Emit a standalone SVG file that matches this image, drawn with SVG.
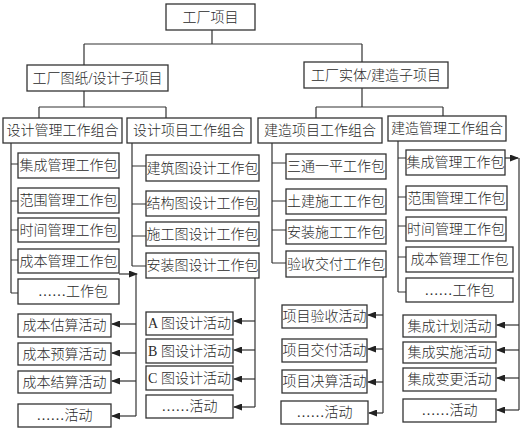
<svg xmlns="http://www.w3.org/2000/svg" width="525" height="428" viewBox="0 0 525 428">
<defs>
<marker id="ah" markerUnits="userSpaceOnUse" markerWidth="9" markerHeight="7" refX="8" refY="3.5" orient="auto">
<path d="M0,0 L9,3.5 L0,7 z" fill="#222"/>
</marker>
<style>
rect{fill:#fff;stroke:#333;stroke-width:1.3}
text{font-family:"Liberation Serif","Noto Sans CJK SC",serif;font-size:14px;font-weight:300;fill:#2a2a2a;text-anchor:middle;dominant-baseline:central}
.c path{fill:none;stroke:#333;stroke-width:1.2}
.a{marker-end:url(#ah)}
</style>
</defs>
<rect x="0" y="0" width="525" height="428" style="fill:#fff;stroke:none"/>
<g class="c" id="connectors">
<path d="M212,30V44M84,44H362M84,44V65M362,44V62"/>
<path d="M84,91V107M39,107H166M39,107V118M166,107V118"/>
<path d="M362,88V107M316,107H443M316,107V118M443,107V116"/>
<path d="M11,143V293M11,164H18M11,201H18M11,230H18M11,260H18M11,293H18"/>
<path d="M132,143V266M132,166H146M132,204H146M132,236H146M132,266H146"/>
<path d="M272,143V263M272,163H286M272,201H286M272,230H286M272,263H286"/>
<path d="M398,141V292M398,158H406M398,197H406M398,226H406M398,257H406M398,292H406"/>
<path class="a" d="M119,274H137"/>
<path d="M136,274V416"/>
<path class="a" d="M136,324H112"/>
<path class="a" d="M136,353H112"/>
<path class="a" d="M136,381H112"/>
<path class="a" d="M136,416H112"/>
<path d="M255,278V407"/>
<path class="a" d="M255,321H234"/>
<path class="a" d="M255,350H234"/>
<path class="a" d="M255,379H234"/>
<path class="a" d="M255,407H234"/>
<path d="M383,277V413"/>
<path class="a" d="M383,315H368"/>
<path class="a" d="M383,349H368"/>
<path class="a" d="M383,382H368"/>
<path class="a" d="M383,413H369"/>
<path class="a" d="M505,158H518"/>
<path d="M519,158V410"/>
<path class="a" d="M519,325H497"/>
<path class="a" d="M519,350H497"/>
<path class="a" d="M519,378H497"/>
<path class="a" d="M519,410H497"/>
</g>
<g id="n-root"><rect x="166" y="4" width="89" height="26"/><text x="210.5" y="17">工厂项目</text></g>
<g id="n-design"><rect x="27" y="65" width="141" height="26"/><text x="97.5" y="78">工厂图纸/设计子项目</text></g>
<g id="n-build"><rect x="304" y="62" width="144" height="26"/><text x="376" y="75">工厂实体/建造子项目</text></g>
<g id="n-g1"><rect x="3" y="118" width="119" height="25"/><text x="62.5" y="130.5">设计管理工作组合</text></g>
<g id="n-g2"><rect x="127" y="118" width="124" height="25"/><text x="189" y="130.5">设计项目工作组合</text></g>
<g id="n-g3"><rect x="258" y="118" width="124" height="25"/><text x="320" y="130.5">建造项目工作组合</text></g>
<g id="n-g4"><rect x="388" y="116" width="118" height="25"/><text x="447" y="128.5">建造管理工作组合</text></g>
<g id="n-p11"><rect x="18" y="153" width="101" height="25"/><text x="68.5" y="165.5">集成管理工作包</text></g>
<g id="n-p12"><rect x="18" y="188" width="101" height="25"/><text x="68.5" y="200.5">范围管理工作包</text></g>
<g id="n-p13"><rect x="18" y="218" width="101" height="24"/><text x="68.5" y="230">时间管理工作包</text></g>
<g id="n-p14"><rect x="18" y="249" width="101" height="24"/><text x="68.5" y="261">成本管理工作包</text></g>
<g id="n-p15"><rect x="18" y="279" width="101" height="25"/><text x="73" y="291.5">……工作包</text></g>
<g id="n-p21"><rect x="146" y="155" width="113" height="26"/><text x="202.5" y="168">建筑图设计工作包</text></g>
<g id="n-p22"><rect x="146" y="191" width="113" height="25"/><text x="202.5" y="203.5">结构图设计工作包</text></g>
<g id="n-p23"><rect x="146" y="222" width="113" height="24"/><text x="202.5" y="234">施工图设计工作包</text></g>
<g id="n-p24"><rect x="146" y="253" width="113" height="25"/><text x="202.5" y="265.5">安装图设计工作包</text></g>
<g id="n-p31"><rect x="286" y="154" width="100" height="25"/><text x="336" y="166.5">三通一平工作包</text></g>
<g id="n-p32"><rect x="286" y="189" width="100" height="25"/><text x="336" y="201.5">土建施工工作包</text></g>
<g id="n-p33"><rect x="286" y="220" width="100" height="24"/><text x="336" y="232">安装施工工作包</text></g>
<g id="n-p34"><rect x="286" y="251" width="100" height="26"/><text x="336" y="264">验收交付工作包</text></g>
<g id="n-p41"><rect x="406" y="150" width="99" height="25"/><text x="455.5" y="162.5">集成管理工作包</text></g>
<g id="n-p42"><rect x="406" y="186" width="101" height="24"/><text x="456.5" y="198">范围管理工作包</text></g>
<g id="n-p43"><rect x="406" y="217" width="100" height="24"/><text x="456" y="229">时间管理工作包</text></g>
<g id="n-p44"><rect x="406" y="247" width="107" height="25"/><text x="459.5" y="259.5">成本管理工作包</text></g>
<g id="n-p45"><rect x="406" y="278" width="107" height="24"/><text x="459.5" y="290">……工作包</text></g>
<g id="n-a11"><rect x="18" y="314" width="93" height="23"/><text x="64.5" y="325.5">成本估算活动</text></g>
<g id="n-a12"><rect x="18" y="343" width="93" height="22"/><text x="64.5" y="354">成本预算活动</text></g>
<g id="n-a13"><rect x="18" y="371" width="93" height="22"/><text x="64.5" y="382">成本结算活动</text></g>
<g id="n-a14"><rect x="18" y="404" width="93" height="23"/><text x="64.5" y="415.5">……活动</text></g>
<g id="n-a21"><rect x="146" y="312" width="87" height="23"/><text x="189.5" y="323.5">A 图设计活动</text></g>
<g id="n-a22"><rect x="146" y="339" width="87" height="24"/><text x="189.5" y="351">B 图设计活动</text></g>
<g id="n-a23"><rect x="146" y="366" width="87" height="24"/><text x="189.5" y="378">C 图设计活动</text></g>
<g id="n-a24"><rect x="146" y="395" width="87" height="23"/><text x="189.5" y="406.5">……活动</text></g>
<g id="n-a31"><rect x="282" y="305" width="85" height="23"/><text x="324.5" y="316.5">项目验收活动</text></g>
<g id="n-a32"><rect x="282" y="339" width="85" height="23"/><text x="324.5" y="350.5">项目交付活动</text></g>
<g id="n-a33"><rect x="282" y="370" width="85" height="23"/><text x="324.5" y="381.5">项目决算活动</text></g>
<g id="n-a34"><rect x="281" y="401" width="87" height="23"/><text x="324.5" y="412.5">……活动</text></g>
<g id="n-a41"><rect x="403" y="315" width="93" height="22"/><text x="449.5" y="326">集成计划活动</text></g>
<g id="n-a42"><rect x="403" y="342" width="93" height="21"/><text x="449.5" y="352.5">集成实施活动</text></g>
<g id="n-a43"><rect x="403" y="368" width="93" height="23"/><text x="449.5" y="379.5">集成变更活动</text></g>
<g id="n-a44"><rect x="403" y="399" width="93" height="23"/><text x="449.5" y="410.5">……活动</text></g>
</svg>
